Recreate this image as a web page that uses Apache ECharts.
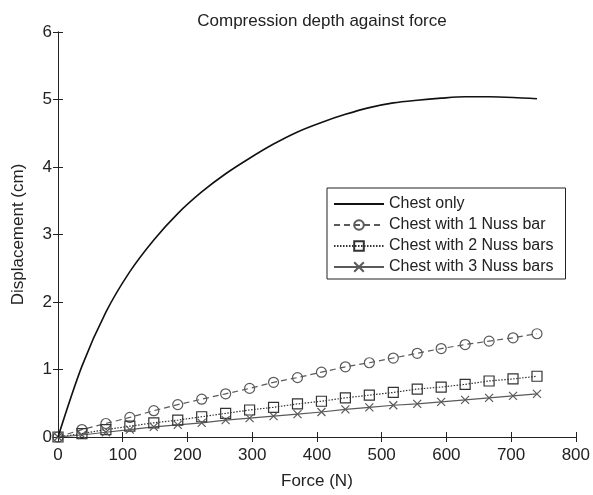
<!DOCTYPE html>
<html>
<head>
<meta charset="utf-8">
<script src="https://cdn.jsdelivr.net/npm/echarts@6/dist/echarts.min.js"></script>
<style>html,body{margin:0;padding:0;background:#fff}#c{width:593px;height:495px}</style>
</head>
<body>
<div id="c"></div>
<script>
const forces = [0,37,74,111,148,185,222,259,296,333,370,407,444,481,518,555,592,629,666,703,740];
const chestOnly = [0,1.05,1.85,2.45,2.92,3.31,3.63,3.90,4.13,4.34,4.52,4.66,4.78,4.88,4.95,4.99,5.02,5.04,5.04,5.03,5.01];
const oneBar = [0,0.11,0.20,0.29,0.39,0.48,0.56,0.64,0.72,0.81,0.88,0.96,1.04,1.10,1.17,1.24,1.31,1.37,1.42,1.47,1.53];
const twoBars = [0,0.05,0.11,0.16,0.21,0.25,0.30,0.35,0.40,0.44,0.49,0.53,0.58,0.62,0.66,0.71,0.74,0.78,0.83,0.86,0.90];
const threeBars = [0,0.03,0.07,0.11,0.15,0.18,0.21,0.25,0.28,0.31,0.34,0.37,0.41,0.44,0.47,0.49,0.52,0.55,0.58,0.61,0.64];
const seriesNames = ['Chest only','Chest with 1 Nuss bar','Chest with 2 Nuss bars','Chest with 3 Nuss bars'];
const xTicks = [0,100,200,300,400,500,600,700,800];
const yTicks = [0,1,2,3,4,5,6];

const pair = arr => forces.map((f,i)=>[f,arr[i]]);
const font = "'Liberation Sans', Arial, Helvetica, sans-serif";
const ink = '#222';
const gray = '#5a5a5a';

const chart = echarts.init(document.getElementById('c'), null, {renderer:'canvas'});
const axisCommon = {
  axisLine:{show:true, lineStyle:{color:ink, width:1}},
  axisTick:{show:true, inside:true, length:5, lineStyle:{color:ink}},
  splitLine:{show:false},
};
chart.setOption({
  animation:false,
  backgroundColor:'#fff',
  title:{text:'Compression depth against force', left:317, top:8, textAlign:'center',
    textStyle:{fontFamily:font, fontSize:17, fontWeight:'normal', color:ink}},
  grid:{left:58, right:17, top:32, bottom:55, containLabel:false},
  legend:{
    orient:'vertical', left:327, top:188, padding:[8,12,4,6],
    data:seriesNames, itemWidth:50, itemHeight:12, itemGap:5,
    backgroundColor:'#fff', borderColor:ink, borderWidth:1, borderRadius:0,
    textStyle:{fontFamily:font, fontSize:16, lineHeight:16, color:ink}
  },
  xAxis:[
    Object.assign({type:'value', min:xTicks[0], max:xTicks[xTicks.length-1], interval:100, position:'bottom',
      name:'Force (N)', nameLocation:'middle', nameGap:36,
      nameTextStyle:{fontFamily:font, fontSize:17, color:ink},
      axisLabel:{fontFamily:font, fontSize:17, color:ink, margin:10}}, axisCommon),
    Object.assign({type:'value', min:xTicks[0], max:xTicks[xTicks.length-1], interval:100, position:'top',
      axisLabel:{show:false}}, axisCommon)
  ],
  yAxis:[
    Object.assign({type:'value', min:yTicks[0], max:yTicks[yTicks.length-1], interval:1, position:'left',
      name:'Displacement (cm)', nameLocation:'middle', nameGap:31,
      nameTextStyle:{fontFamily:font, fontSize:17, color:ink},
      axisLabel:{fontFamily:font, fontSize:17, color:ink, margin:6}}, axisCommon),
    Object.assign({type:'value', min:yTicks[0], max:yTicks[yTicks.length-1], interval:1, position:'right',
      axisLabel:{show:false}}, axisCommon)
  ],
  series:[
    {name:seriesNames[0], type:'line', data:pair(chestOnly), smooth:0.3, showSymbol:false, symbol:'circle',
      lineStyle:{color:'#111', width:1.6}, itemStyle:{color:'#111', opacity:0}, z:5},
    {name:seriesNames[1], type:'line', data:pair(oneBar), symbol:'circle', symbolSize:10, showSymbol:true,
      lineStyle:{color:gray, width:1.2, type:[6,4]},
      itemStyle:{color:'transparent', borderColor:gray, borderWidth:1.2}},
    {name:seriesNames[2], type:'line', data:pair(twoBars), symbol:'rect', symbolSize:10, showSymbol:true,
      lineStyle:{color:'#333', width:1.2, type:[1.5,1.5]},
      itemStyle:{color:'transparent', borderColor:'#333', borderWidth:1.2}},
    {name:seriesNames[3], type:'line', data:pair(threeBars), symbol:'path://M0,0L10,10M10,0L0,10', symbolSize:8, showSymbol:true,
      lineStyle:{color:gray, width:1.2},
      itemStyle:{color:gray, borderColor:gray, borderWidth:1.2}}
  ]
});
</script>
</body>
</html>
